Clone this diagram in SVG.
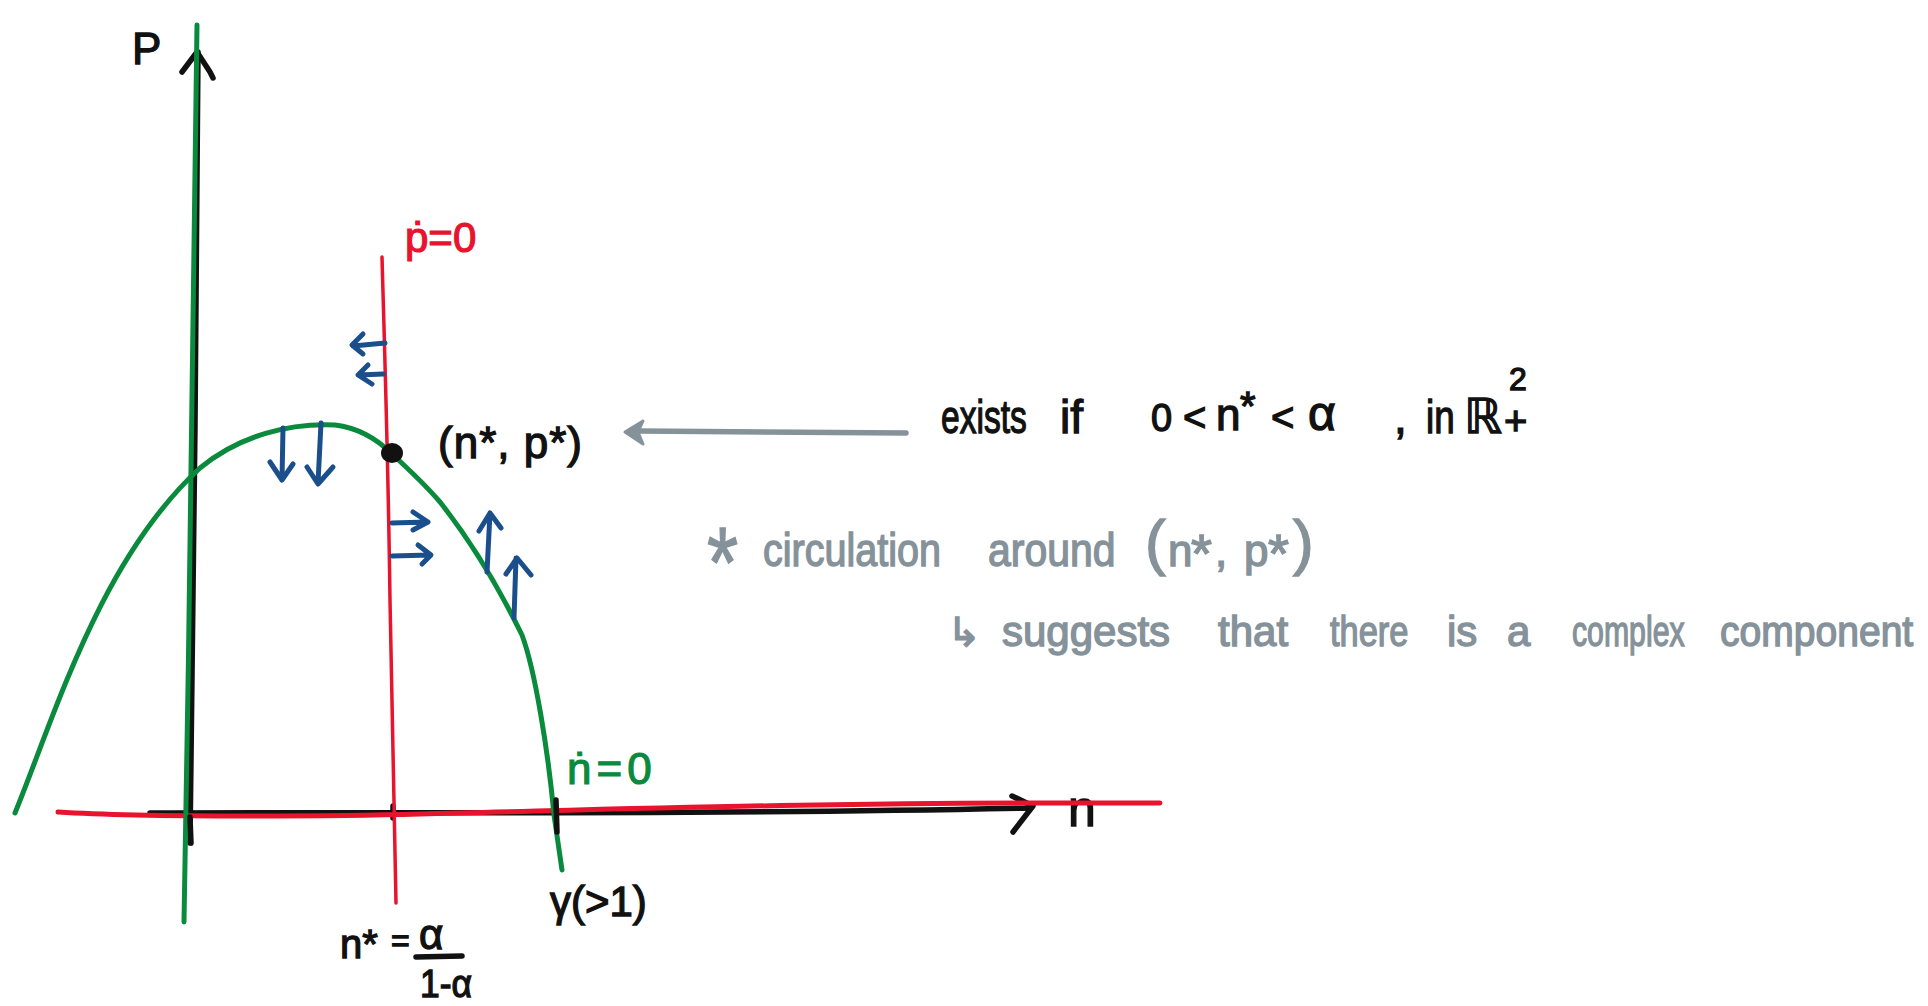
<svg xmlns="http://www.w3.org/2000/svg" width="1928" height="1006" viewBox="0 0 1928 1006">
<style>
.k{fill:none;stroke:#111;stroke-width:5.5;stroke-linecap:round;stroke-linejoin:round}
.g{fill:none;stroke:#0a8a3c;stroke-width:5;stroke-linecap:round;stroke-linejoin:round}
.r{fill:none;stroke:#e8132d;stroke-width:3.5;stroke-linecap:round;stroke-linejoin:round}
.rh{fill:none;stroke:#e8132d;stroke-width:5;stroke-linecap:round;stroke-linejoin:round}
.b{fill:none;stroke:#1a4f8b;stroke-width:5;stroke-linecap:round;stroke-linejoin:round}
.gr{fill:none;stroke:#85929a;stroke-width:5.5;stroke-linecap:round}
text{font-family:"Liberation Sans","DejaVu Sans",sans-serif}
.tk{fill:#111;stroke:#111;stroke-width:1.3;font-size:46px}
.tr{fill:#e8132d;stroke:#e8132d;stroke-width:1.2;font-size:42px}
.tg{fill:#0a8a3c;stroke:#0a8a3c;stroke-width:1.2;font-size:44px}
.ty{fill:#85929a;stroke:#85929a;stroke-width:1.4;font-size:46px}
.ty2{fill:#85929a;stroke:#85929a;stroke-width:1.4;font-size:42px}
</style>
<rect width="1928" height="1006" fill="#fff"/>
<g id="axes">
<path class="k" d="M198,52 C197,300 193,600 190,843"/>
<path class="k" d="M182,72 L197,52 L210,72 L213,78"/>
<path class="k" d="M150,813 C400,812 700,815 1030,808"/>
<path class="k" d="M1012,796 L1033,806 L1013,832"/>
<path class="k" d="M393,806 L393,818"/>
<text id="label-p" class="tk" x="132" y="64" style="font-size:44px">P</text>
<text id="label-n" class="tk" x="1068" y="826" style="font-size:50px">n</text>
</g>
<g id="nullclines">
<path class="rh" d="M58,812 C150,818 350,816 420,814 C600,810 800,802 1160,803"/>
<path class="r" d="M382,257 C384,330 388,450 390,600 L396,903"/>
<path class="g" d="M197,25 C195,200 190,600 184,922"/>
<path class="g" d="M15,813 C55,715 100,560 200,468 C240,435 290,423 335,425 C360,428 378,440 392,454 C415,475 428,488 440,502 C470,540 500,590 522,635 C535,670 548,750 554,815 L562,870"/>
<path class="k" d="M190,817 L191,843"/>
<path class="k" d="M556,800 L557,832"/>
</g>
<g id="labels-nullclines">
<text class="tr" x="405" y="252">ṗ=0</text>
<text class="tg" x="567" y="784" letter-spacing="5">ṅ=0</text>
<text class="tk" x="550" y="916" style="font-size:42px">γ(&gt;1)</text>
<text class="tk" x="340" y="958" style="font-size:40px">n*</text>
<text class="tk" x="391" y="951" style="font-size:32px">=</text>
<text class="tk" x="419" y="949" style="font-size:42px">α</text>
<path class="k" d="M416,957 L462,956"/>
<text class="tk" x="420" y="997" style="font-size:38px" textLength="52" lengthAdjust="spacingAndGlyphs">1-α</text>
</g>
<g id="flow-arrows">
<path class="b" d="M385,343 L353,346 M363,334 L352,345 L363,354"/>
<path class="b" d="M383,374 L359,375 M368,365 L358,375 L372,384"/>
<path class="b" d="M283,428 L282,480 M270,462 L282,480 L293,464"/>
<path class="b" d="M321,423 L318,483 M307,467 L318,484 L333,467"/>
<path class="b" d="M392,523 L427,522 M413,512 L428,522 L413,530"/>
<path class="b" d="M392,556 L430,555 M418,545 L431,555 L422,564"/>
<path class="b" d="M487,572 L490,513 M479,531 L490,513 L501,528"/>
<path class="b" d="M514,618 L516,558 M506,574 L517,558 L531,575"/>
</g>
<g id="equilibrium">
<ellipse cx="392" cy="453" rx="11" ry="10" fill="#111"/>
<text class="tk" x="438" y="458" style="font-size:44px" textLength="144" lengthAdjust="spacing">(n*, p*)</text>
</g>
<g id="connector">
<path class="gr" d="M906,433 L640,431"/>
<path d="M625,432 L643,421 L638,432 L643,444 Z" fill="#85929a" stroke="#85929a" stroke-width="3" stroke-linejoin="round"/>
</g>
<g id="condition">
<text class="tk" transform="translate(941,433) scale(0.73,1)">exists</text>
<text class="tk" x="1060" y="433">if</text>
<text class="tk" x="1151" y="431" style="font-size:38px">0</text>
<text class="tk" x="1183" y="431" style="font-size:40px">&lt;</text>
<text class="tk" x="1216" y="430" style="font-size:44px">n</text>
<text class="tk" x="1240" y="420" style="font-size:40px">*</text>
<text class="tk" x="1271" y="431" style="font-size:40px">&lt;</text>
<text class="tk" x="1308" y="430" style="font-size:48px">α</text>
<text class="tk" x="1394" y="433">,</text>
<text class="tk" transform="translate(1426,433) scale(0.8,1)">in</text>
<text class="tk" x="1464" y="433" style="font-size:48px">ℝ</text>
<text class="tk" x="1509" y="390" style="font-size:32px">2</text>
<text class="tk" x="1504" y="435" style="font-size:40px">+</text>
</g>
<g id="note">
<text class="ty" transform="translate(707,597) scale(0.8,1)" style="font-size:100px">*</text>
<text class="ty" transform="translate(763,566) scale(0.86,1)">circulation</text>
<text class="ty" transform="translate(988,566) scale(0.89,1)">around</text>
<text class="ty" x="1145" y="563" style="font-size:62px">(</text>
<text class="ty" x="1168" y="566" style="font-size:44px">n</text>
<text class="ty" x="1191" y="572" style="font-size:54px">*</text>
<text class="ty" x="1215" y="566" style="font-size:44px">,</text>
<text class="ty" x="1244" y="566" style="font-size:44px">p</text>
<text class="ty" x="1268" y="572" style="font-size:54px">*</text>
<text class="ty" x="1293" y="563" style="font-size:62px">)</text>
<text class="ty2" x="947" y="646" style="font-size:40px">↳</text>
<text class="ty2" x="1002" y="646">suggests</text>
<text class="ty2" x="1218" y="646">that</text>
<text class="ty2" transform="translate(1330,646) scale(0.82,1)">there</text>
<text class="ty2" x="1447" y="646">is</text>
<text class="ty2" x="1507" y="646">a</text>
<text class="ty2" transform="translate(1572,646) scale(0.72,1)">complex</text>
<text class="ty2" transform="translate(1720,646) scale(0.93,1)">component</text>
</g>
</svg>
